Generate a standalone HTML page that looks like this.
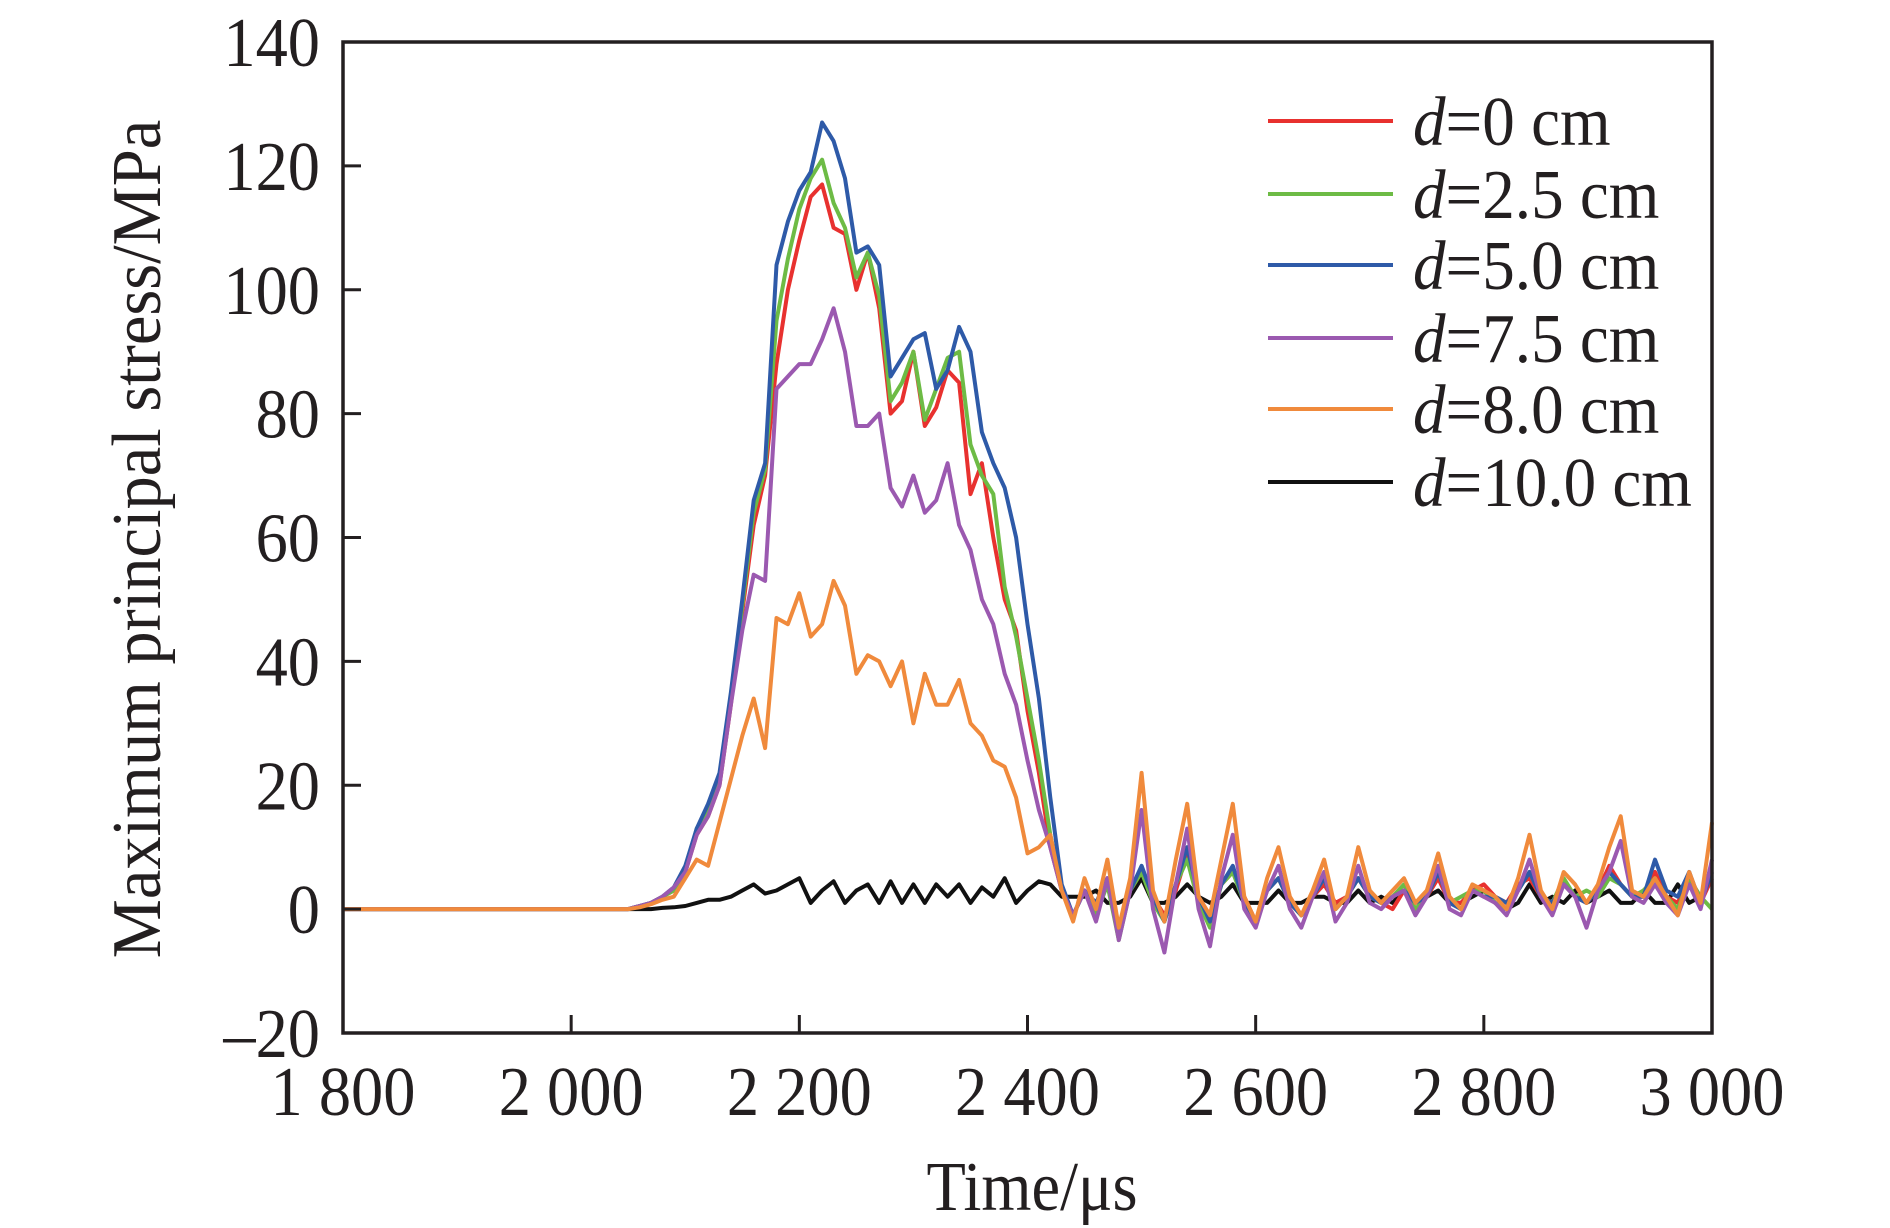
<!DOCTYPE html>
<html><head><meta charset="utf-8">
<style>
html,body{margin:0;padding:0;background:#fff;}
svg{display:block;}
text{font-family:"Liberation Serif","Times New Roman",serif;fill:#231f20;}
</style></head>
<body>
<svg id="chart" width="1890" height="1228" viewBox="0 0 1890 1228" xmlns="http://www.w3.org/2000/svg">
<g id="series"></g>
<g id="axes"></g>
<g id="legend"></g>
<text transform="translate(160,539) rotate(-90) scale(0.95,1)" text-anchor="middle" font-size="70">Maximum principal stress/MPa</text>
<text transform="translate(1032,1210) scale(0.92,1)" text-anchor="middle" font-size="70">Time/μs</text>
</svg>
<script>
const xTicks = [1800, 2000, 2200, 2400, 2600, 2800, 3000];
const xTickLabels = ["1 800", "2 000", "2 200", "2 400", "2 600", "2 800", "3 000"];
const yTicks = [-20, 0, 20, 40, 60, 80, 100, 120, 140];
const yTickLabels = ["\u201320", "0", "20", "40", "60", "80", "100", "120", "140"];
const seriesNames = ["d=0 cm", "d=2.5 cm", "d=5.0 cm", "d=7.5 cm", "d=8.0 cm", "d=10.0 cm"];
const seriesColors = ["#e8312f", "#6dbb45", "#2e5aa8", "#9b59b0", "#f08a3c", "#111111"];
const redVals = [0, 0,0,0.5,1,2,3,6,12,15,20, 33,48,62,70,88,100,108,115,117,110, 109,100,106,97,80,82,90,78,81,87, 85,67,72,60,50,45,32,22,10,3,
 -1,3,0,4,-4,3,6,2,-1,3,9,1,-1,4,6,2,-2,3,5,1,-1,2,4,1,2,5,2,1,0,3,1,2,5,1,1,3,4,2,1,4,5,2,1,4,2,1,3,7,4,2,2,6,2,1,5,1,5];
const greenVals = [0, 0,0,0.5,1,2,3,6,13,16,21, 34,49,64,71,95,105,113,118,121,114, 110,102,106,99,82,85,90,79,84,89, 90,75,70,67,52,44,34,24,12,3,
 -1,3,-1,4,-5,3,6,1,-2,4,8,1,-3,4,6,1,-2,3,5,1,-1,2,5,0,2,5,2,1,2,4,0,2,6,1,2,3,3,1,0,3,6,2,1,5,2,3,2,5,4,2,3,5,2,0,5,2,0];
const blueVals = [0, 0,0,0.5,1,2,3.5,7,13,17,22, 35,50,66,72,104,111,116,119,127,124, 118,106,107,104,86,89,92,93,84,87, 94,90,77,72,68,60,46,34,18,4,
 -1,3,1,5,-3,3,7,2,-2,4,10,2,-2,4,7,1,-2,3,5,1,-1,2,5,0,2,5,2,1,2,3,1,2,6,1,0,3,2,2,1,3,6,2,1,4,2,1,3,6,4,2,2,8,3,2,6,1,6];
const purpleVals = [0, 0,0,0.5,1,2,3.5,6,12,15,20, 33,45,54,53,84,86,88,88,92,97, 90,78,78,80,68,65,70,64,66,72, 62,58,50,46,38,33,24,16,10,3,
 -1,3,-2,5,-5,3,16,0,-7,4,13,0,-6,5,12,0,-3,3,7,0,-3,2,6,-2,1,7,1,0,2,3,-1,2,7,0,-1,3,2,1,-1,3,8,2,-1,4,2,-3,3,6,11,2,1,4,1,-1,4,0,8];
const orangeVals = [0, 0,0,0.3,0.8,1.5,2,5,8,7,14, 21,28,34,26,47,46,51,44,46,53, 49,38,41,40,36,40,30,38,33,33, 37,30,28,24,23,18,9,10,12,3,
 -2,5,0,8,-3,5,22,3,-2,8,17,2,-1,8,17,2,-2,5,10,2,-1,3,8,0,2,10,3,1,3,5,1,3,9,2,0,4,3,2,0,5,12,3,0,6,4,1,4,10,15,3,2,5,2,-1,6,1,14];
const blackVals = [0, 0,0,0,0,0.2,0.3,0.5,1,1.5,1.5, 2,3,4,2.5,3,4,5,1,3,4.5, 1,3,4,1,4.5,1,4,1,4,2, 4,1,3.5,2,5,1,3,4.5,4,2,
 2,2,3,1,1,2,5,1,1,2,4,2,1,2,4,1,1,1,3,1,1,2,2,1,1,3,1,2,1,3,1,2,3,1,1,2,3,1,0,1,4,1,2,1,3,1,2,3,1,1,3,1,1,4,1,2,5];
const times = [1800];
for (let t = 2040; t <= 3000; t += 10) times.push(t);

const NS = "http://www.w3.org/2000/svg";
const L = 343, R = 1712, T = 42, B = 1033;
const X0 = 1800, X1 = 3000, Y0 = -20, Y1 = 140;
function sx(v){ return L + (v - X0) / (X1 - X0) * (R - L); }
function sy(v){ return B - (v - Y0) / (Y1 - Y0) * (B - T); }
function mk(tag, attrs, parent){ const e = document.createElementNS(NS, tag); for (const k in attrs) e.setAttribute(k, attrs[k]); parent.appendChild(e); return e; }

const sg = document.getElementById("series");
const allVals = [redVals, greenVals, blueVals, purpleVals, orangeVals, blackVals];
const keys = ["d-0cm", "d-2-5cm", "d-5-0cm", "d-7-5cm", "d-8-0cm", "d-10-0cm"];
const order = [5, 0, 1, 2, 3, 4];
order.forEach(function(si){
  const vals = allVals[si];
  const n = Math.min(vals.length, times.length);
  let d = "";
  for (let i = 0; i < n; i++) d += (i ? "L" : "M") + sx(times[i]).toFixed(1) + "," + sy(vals[i]).toFixed(1);
  const p = mk("path", {d: d, fill: "none", stroke: seriesColors[si], "stroke-width": 4, "stroke-linejoin": "round"}, sg);
  
  
});

const ag = document.getElementById("axes");
const frame = mk("rect", {x: L, y: T, width: R - L, height: B - T, fill: "none", stroke: "#231f20", "stroke-width": 3.5}, ag);


xTicks.forEach(function(v, i){
  const x = sx(v);
  const tk = mk("line", {x1: x, x2: x, y1: B, y2: B - 18, stroke: "#231f20", "stroke-width": 3}, ag);
  
  
  const tx = mk("text", {transform: "translate(" + x + ",1115) scale(0.92,1)", "text-anchor": "middle", "font-size": 70}, ag);
  tx.textContent = xTickLabels[i];
  
  
});
yTicks.forEach(function(v, i){
  const y = sy(v);
  const tk = mk("line", {x1: L, x2: L + 18, y1: y, y2: y, stroke: "#231f20", "stroke-width": 3}, ag);
  
  
  const tx = mk("text", {transform: "translate(320," + (y + 24) + ") scale(0.92,1)", "text-anchor": "end", "font-size": 70}, ag);
  tx.textContent = yTickLabels[i];
  
  
});

const lg = document.getElementById("legend");
const rowY = [121, 194, 265, 338, 409, 482];
seriesNames.forEach(function(name, i){
  const y = rowY[i];
  const ln = mk("line", {x1: 1268, x2: 1393, y1: y, y2: y, stroke: seriesColors[i], "stroke-width": 4}, lg);
  
  
  const tx = mk("text", {transform: "translate(1413," + (y + 24) + ") scale(0.93,1)", "font-size": 70}, lg);
  const it = mk("tspan", {"font-style": "italic"}, tx);
  it.textContent = "d";
  const rest = mk("tspan", {}, tx);
  rest.textContent = name.slice(1);
  
  
});
</script>
</body></html>
